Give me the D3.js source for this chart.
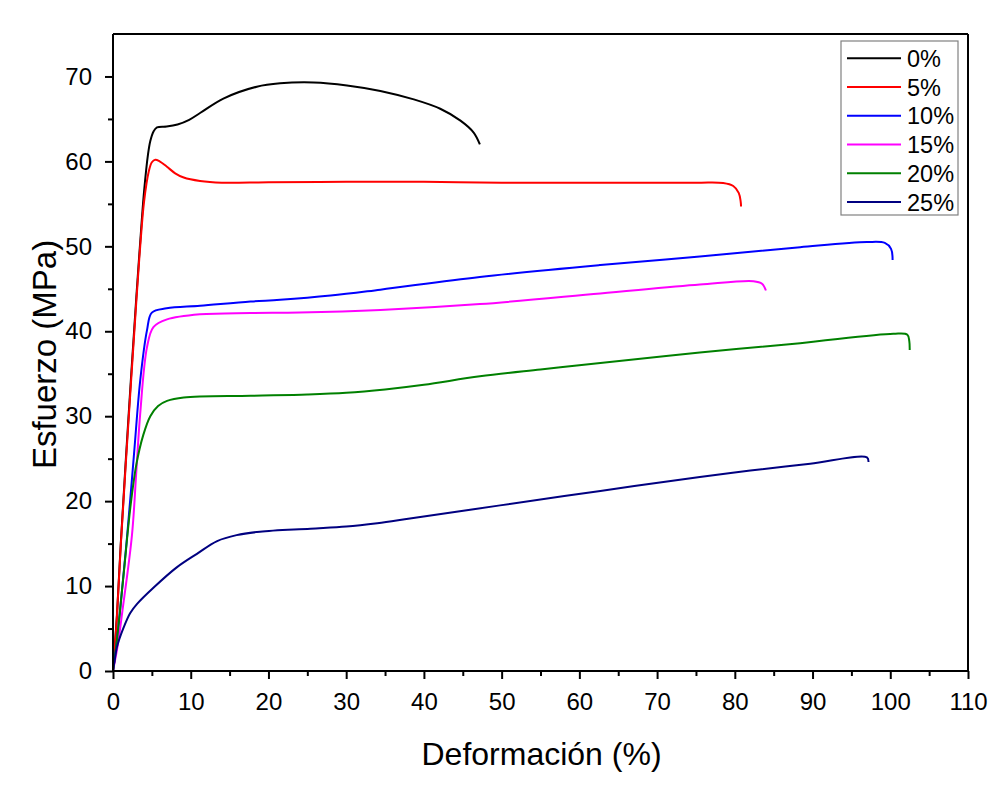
<!DOCTYPE html>
<html>
<head>
<meta charset="utf-8">
<script src="https://cdn.jsdelivr.net/npm/d3@7"></script>
<style>
  html, body { margin: 0; padding: 0; background: #fff; }
  svg { display: block; font-family: Arial, "Liberation Sans", sans-serif; }
</style>
</head>
<body>
<svg id="chart" width="995" height="788"></svg>
<script>
// ---- data (strain %, stress MPa) ----
const seriesNames = ["0%", "5%", "10%", "15%", "20%", "25%"];
const seriesColors = ["#000000", "#ff0000", "#0000ff", "#ff00ff", "#008000", "#000080"];

const s0 = [[0,0],[0.5,6.5],[1,15],[2,30],[3,44],[3.5,50.5],[4.0,56.5],[4.5,60.8],[4.8,62.4],[5.2,63.5],[5.66,64.0],[6.9,64.1],[8.3,64.35],[9.8,64.9],[11.2,65.7],[14.2,67.4],[18.5,68.8],[21.5,69.2],[25.8,69.3],[30.1,68.95],[34.4,68.3],[38.7,67.3],[42.1,66.2],[44.7,64.8],[46.4,63.4],[47.2,62.0]];
const s5 = [[0,0],[0.5,6.3],[1,14.8],[2,29.5],[3,43.5],[3.5,50],[4.0,55.3],[4.6,58.8],[5.0,59.9],[5.44,60.2],[6.0,60.0],[6.9,59.4],[8.0,58.6],[9.1,58.1],[11.2,57.7],[14,57.5],[20,57.55],[30,57.6],[40,57.6],[50,57.5],[60,57.5],[70,57.5],[75.5,57.5],[78.5,57.45],[79.8,57.1],[80.5,56.3],[80.75,55.3],[80.8,54.7]];
const s10 = [[0,0],[0.5,3.5],[1,8],[1.8,15.7],[2.7,25.5],[3.5,34.2],[4.37,40.1],[5.0,42.2],[6.9,42.7],[11.2,43.0],[17.7,43.5],[21.5,43.7],[28,44.2],[34.4,44.9],[47.2,46.4],[62.7,47.8],[75.5,48.8],[88.4,49.9],[97,50.5],[99.3,50.4],[100.1,49.7],[100.3,48.4]];
const s15 = [[0,0],[0.6,3],[1.2,7],[2.44,16],[3.0,23.5],[3.5,30.3],[4.37,38.1],[5.2,40.5],[6.95,41.4],[11.2,42.0],[17.7,42.15],[24,42.2],[34.4,42.5],[47.2,43.2],[62.7,44.45],[75.5,45.5],[82.4,45.9],[83.5,45.6],[84.0,44.8]];
const s20 = [[0,0],[0.5,3.6],[1.37,11.4],[2.2,19.0],[3.0,24.3],[3.9,27.8],[4.8,30.0],[5.8,31.2],[6.95,31.8],[9.1,32.2],[17.7,32.4],[25,32.55],[30,32.75],[35,33.15],[40,33.7],[47.2,34.7],[55,35.5],[62.7,36.25],[75.5,37.5],[88.4,38.6],[100.4,39.7],[102.2,39.6],[102.45,38.8],[102.5,37.8]];
const s25 = [[0,0],[0.21,1.2],[0.5,2.8],[1.36,5.1],[2.2,6.8],[3.1,7.9],[5.2,9.8],[8.2,12.2],[10.8,13.8],[13.4,15.3],[15.9,16.0],[18.9,16.4],[25.4,16.75],[30,17.0],[34,17.4],[38.2,17.95],[49.8,19.5],[62.7,21.2],[75.5,22.85],[82,23.6],[89.7,24.4],[97.0,25.15],[97.2,24.6]];
const seriesData = [s0, s5, s10, s15, s20, s25];

const xTicks = [0,10,20,30,40,50,60,70,80,90,100,110];
const yTicks = [0,10,20,30,40,50,60,70];
const xLabel = "Deformación (%)";
const yLabel = "Esfuerzo (MPa)";

// ---- layout ----
const svg = d3.select("#chart");
const L = 113, T = 34, R = 968, B = 671;
const x = d3.scaleLinear().domain([0, 110]).range([L, R]);
const y = d3.scaleLinear().domain([0, 75]).range([B, T]);

// curves
const line = d3.line().x(d => x(d[0])).y(d => y(d[1])).curve(d3.curveCatmullRom.alpha(0.5));
seriesData.forEach((s, i) => {
  svg.append("path").datum(s)
    .attr("fill", "none")
    .attr("stroke", seriesColors[i])
    .attr("stroke-width", 2)
    .attr("stroke-linejoin", "round")
    .attr("d", line);
});

// frame (top and right)
svg.append("line").attr("x1", L).attr("x2", R).attr("y1", T).attr("y2", T)
  .attr("stroke", "#000").attr("stroke-width", 2);
svg.append("line").attr("x1", R).attr("x2", R).attr("y1", T).attr("y2", B)
  .attr("stroke", "#000").attr("stroke-width", 2);

// minor ticks
const xMinor = d3.range(5, 110, 10);
const yMinor = d3.range(5, 75, 10);

const xAxis = svg.append("g").attr("transform", `translate(0,${B})`)
  .call(d3.axisBottom(x).tickValues(xTicks).tickSize(8).tickPadding(14).tickFormat(d3.format("d")));
const yAxis = svg.append("g").attr("transform", `translate(${L},0)`)
  .call(d3.axisLeft(y).tickValues(yTicks).tickSize(8).tickPadding(13).tickFormat(d3.format("d")));
svg.append("g").attr("transform", `translate(0,${B})`)
  .call(d3.axisBottom(x).tickValues(xMinor).tickSize(5).tickFormat(""))
  .call(g => g.select(".domain").remove());
svg.append("g").attr("transform", `translate(${L},0)`)
  .call(d3.axisLeft(y).tickValues(yMinor).tickSize(5).tickFormat(""))
  .call(g => g.select(".domain").remove());

xAxis.select(".domain").attr("d", `M${L},0H${R}`).attr("stroke-width", 2);
yAxis.select(".domain").attr("d", `M0,${B}V${T}`).attr("stroke-width", 2);
svg.selectAll(".tick line").attr("stroke-width", 2).attr("stroke", "#000");
svg.selectAll(".tick text").attr("font-size", 24).attr("fill", "#000")
  .attr("font-family", "Arial, 'Liberation Sans', sans-serif");

// axis titles
svg.append("text").attr("x", (L + R) / 2 + 1).attr("y", 765)
  .attr("text-anchor", "middle").attr("font-size", 32).attr("fill", "#000")
  .text(xLabel);
svg.append("text").attr("transform", `translate(56,${(T + B) / 2 + 2}) rotate(-90)`)
  .attr("text-anchor", "middle").attr("font-size", 33).attr("fill", "#000")
  .text(yLabel);

// legend
const lg = svg.append("g");
lg.append("rect").attr("x", 841).attr("y", 41).attr("width", 117).attr("height", 174)
  .attr("fill", "#fff").attr("stroke", "#808080").attr("stroke-width", 1.2);
seriesNames.forEach((n, i) => {
  const yy = 58.3 + i * 28.75;
  lg.append("line").attr("x1", 847).attr("x2", 901).attr("y1", yy).attr("y2", yy)
    .attr("stroke", seriesColors[i]).attr("stroke-width", 2);
  lg.append("text").attr("x", 907).attr("y", yy + 8.5).attr("font-size", 23.5)
    .attr("fill", "#000").text(n);
});
</script>
</body>
</html>
